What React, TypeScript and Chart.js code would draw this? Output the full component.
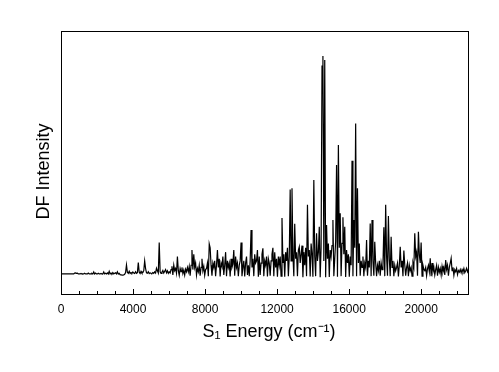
import { useEffect, useRef } from 'react';
import { Chart, registerables } from 'chart.js';

Chart.register(...registerables);

// Energy grid of the spectrum (cm^-1)
const energyStep = 50.5;
const energyMin = 0;
const energyMax = 22600;
const intensityMin = -9.2;
const intensityMax = 111.5;

const majorTicks = [0, 4000, 8000, 12000, 16000, 20000];
const minorTickStep = 1000;

const xTitle = 'S\u2081 Energy (cm\u207B\u00B9)';
const yTitle = 'DF Intensity';

// DF intensity, one value per grid step, rows of 20 steps
const dfIntensity = [
  0, 0, 0, 0, 0, 0, 0, 0, 0, 0, 0, 0, 0, 0, 0, 0.4, 0.5, 0.3, 0.4, 0,
  0, 0, 0.2, 0, 0, 0, 0.3, 0, 0, 0, 0.4, 0, 0, 0, 0.3, 0, 0.9, 0, 0.4, 0,
  0, 0.3, 0, 0, 0.2, 0, 0, 0.9, 0, 0.3, 0, 0.5, 0, 1.2, 0, 0.4, 0, 0.6, 0, 0.3,
  0.5, 0, 1, 0, 0.3, -0.3, -0.4, -0.5, -0.5, -0.4, -0.2, 0.6, 4.1, 0.8, 0.3, 1.2, 0.2, 0.6, 0.3, 0.9,
  0.4, 0.2, 1, 0.3, 0.6, 5.2, 0.8, 0.2, 1.2, 0.4, 0.6, 1.5, 6, 2.5, 0.5, 0.3, 1, 0.2, 0.5, 0.3,
  0.2, 0.6, 0.3, 1, 0.4, 2.6, 1.5, 0.5, 14.4, 1, 0.3, 0.8, 1.6, 0.4, 1.2, 2, 0.5, 1.4, 0.3, 1,
  0.5, 2, 3.5, -0.5, 4, 1.5, 2.5, 0.3, 8, 1.5, -0.6, 2.5, 1, 3, 0.2, 1.8, -0.5, 2.2, 1, 3,
  1, 3.5, -0.8, 4, 11, 2, 9, 3, 5, -0.5, 2.5, 1, 4, -0.8, 3, 7, 1.5, 3.5, -0.6, 2,
  2.5, 5, -1, 13.8, 12, 4, -0.8, 5, 3, 6, -1, 4, 11, 3, 7, -1.2, 5, 3.5, 8, -0.5,
  4, 10, -1, 6, 3, 5, -1.2, 7, 3, 4.5, 11, -0.8, 8, 3, 5, -1, 4, 6, 14.4, -1,
  3, 6, -1.2, 5, 8, -0.5, 4, -1, 6, 20.2, 3, 7, -1, 9, 5, 6, 11, -1.3, 8, -0.5,
  5, 9, 11.8, -1, 6, 4, 8, -1.2, 7, 5, -0.8, 6, 9, 12, -1, 10, 3, 7, -1.3, 8,
  4, 8, -1, 25.7, 5, 9, -1.3, 10, 6, 12, -1, 8, 38.8, 6, 39.3, 9, -1, 23, 7, 10,
  -1, 11, 12.5, 5, 9, 13, -1.5, 10, 4, 12, -1, 31.7, 8, 11, -1.2, 14, 9, -1.3, 43.1, 8,
  -1, 18.7, 6, 10, 21.7, -1.5, 12, 95.4, 100, 6, 98.2, -1.5, 22.5, 7, 14, -1.4, 11, 8, 13, 24.8,
  -1, 7, 15, 50, -1.3, 59.2, 12, 27.8, -1, 14, 26, 9, 21.7, -1.4, 11, 5, 9, -1.3, 8, 4,
  52, -1, 24.8, 12, 69.1, -1, 39.3, 5, 14, -0.8, 6, 3, 8, -1, 5, 3, 15.6, -0.8, 6, 3,
  23.2, -1, 24.8, 6, -0.8, 14.8, 5, -1, 4, 1.5, 6, -0.8, 5, 2, 4, 21.4, -1, 31.7, 8, -0.8,
  26.6, 7, -1, 17.1, 3, 6, -1, 4, 1.5, 3, 5, -1.2, 4, 12.5, 3, 6, -1, 10.7, 4, -0.8,
  3, 5, -1, 4, 1.5, 3, -1, 5, 3, 18.7, 8, 10, -0.8, 19.4, 9, 5, 14.4, -1, 4, 2,
  1.5, 3, -0.8, 2.5, 4, 1, 7.2, -1, 5, 1, 3, -0.5, 2, 4, -0.8, 3, 0.8, 2.5, -0.5, 3.5,
  1, 3, -0.5, 6.4, 2, 4, -0.8, 3, 5, 7.2, 1.5, 3, -0.6, 2, 1, 2.5, -0.3, 1.5, 0.8, 2,
  0.5, 2, 1, 2.5, 0.6, 1.5, 2.6, 1, 2, 1.2, 2.5, 1, 2,
];

const FONT = "'Liberation Sans', Arial, sans-serif";

const framePlugin = {
  id: 'frame',
  afterDraw(chart: any) {
    const { ctx, chartArea: a, scales } = chart;
    const xs = scales.x;
    ctx.save();
    ctx.strokeStyle = '#000';
    ctx.lineWidth = 1;
    ctx.strokeRect(a.left + 0.5, a.top + 0.5, a.right - a.left, a.bottom - a.top);
    ctx.beginPath();
    xs.ticks.forEach((t: any) => {
      const px = Math.round(xs.getPixelForValue(t.value)) + 0.5;
      const len = majorTicks.includes(t.value) ? 5 : 3;
      ctx.moveTo(px, a.bottom);
      ctx.lineTo(px, a.bottom - len);
    });
    ctx.stroke();

    // axis titles
    ctx.fillStyle = '#000';
    ctx.font = `18px ${FONT}`;
    ctx.textAlign = 'center';
    ctx.textBaseline = 'alphabetic';
    const midX = (a.left + a.right) / 2;
    ctx.fillText(xTitle, midX + 4.5, a.bottom + 43);
    ctx.translate(a.left - 12, (a.top + a.bottom) / 2 + 9);
    ctx.rotate(-Math.PI / 2);
    ctx.fillText(yTitle, 0, 0);
    ctx.restore();
  },
};

export default function App() {
  const ref = useRef<HTMLCanvasElement | null>(null);

  useEffect(() => {
    if (!ref.current) return;
    const points = dfIntensity.map((v, i) => ({ x: energyMin + i * energyStep, y: v }));
    const chart = new Chart(ref.current, {
      type: 'line',
      data: {
        datasets: [
          {
            label: yTitle,
            data: points,
            borderColor: '#000',
            borderWidth: 1.2,
            pointRadius: 0,
            tension: 0,
            fill: false,
          },
        ],
      },
      options: {
        animation: false,
        responsive: false,
        layout: { padding: { top: 31, right: 31, left: 0, bottom: 0 } },
        plugins: { legend: { display: false }, tooltip: { enabled: false } },
        scales: {
          x: {
            type: 'linear',
            min: energyMin,
            max: energyMax,
            afterBuildTicks: (s: any) => {
              const ticks = [];
              for (let v = energyMin; v <= energyMax; v += minorTickStep) ticks.push({ value: v });
              s.ticks = ticks;
            },
            afterFit: (s: any) => {
              s.height = 78;
            },
            grid: { display: false, drawTicks: false },
            border: { display: false },
            ticks: {
              autoSkip: false,
              maxRotation: 0,
              padding: 8,
              color: '#000',
              font: { family: FONT, size: 12 },
              callback: (v: any) => (majorTicks.includes(Number(v)) ? String(v) : ''),
            },
            title: { display: false, text: xTitle },
          },
          y: {
            type: 'linear',
            min: intensityMin,
            max: intensityMax,
            afterFit: (s: any) => {
              s.width = 61;
            },
            grid: { display: false, drawTicks: false },
            border: { display: false },
            ticks: { display: false },
            title: { display: false, text: yTitle },
          },
        },
      },
      plugins: [framePlugin],
    });
    return () => chart.destroy();
  }, []);

  return (
    <div style={{ position: 'fixed', left: 0, top: 0, width: 499, height: 372, background: '#fff' }}>
      <canvas ref={ref} width={499} height={372} />
    </div>
  );
}
